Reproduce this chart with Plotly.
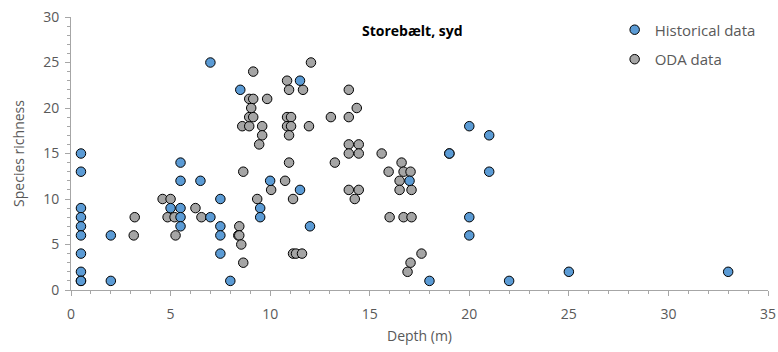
import plotly.graph_objects as go

# Historical data (blue)
hist_depth = [0.5, 0.5, 0.5, 0.5, 0.5, 0.5, 0.5, 0.5, 0.5, 0.5,
              2, 2, 5, 5.5, 5.5, 5.5, 5.5, 5.5, 6.5, 7, 7,
              7.5, 7.5, 7.5, 7.5, 8, 8.5, 9.5, 9.5, 10, 11.5, 11.5, 12,
              17, 18, 19, 20, 20, 20, 21, 21, 22, 25, 33]
hist_richness = [15, 13, 9, 8, 7, 6, 4, 2, 1, 1,
                 6, 1, 9, 14, 12, 9, 8, 7, 12, 25, 8,
                 10, 7, 6, 4, 1, 22, 9, 8, 12, 23, 11, 7,
                 12, 1, 15, 18, 8, 6, 17, 13, 1, 2, 2]

# ODA data (grey)
oda_depth = [3.15, 3.2, 4.6, 5.0, 4.85, 5.2, 5.25, 6.25, 6.55,
             8.45, 8.4, 8.45, 8.55, 8.65, 8.65,
             8.6, 8.95, 9.6, 8.95, 9.15, 9.05, 8.95, 9.15, 9.85, 9.15,
             9.6, 9.45, 9.35, 10.05, 10.75, 10.85, 10.95, 11.65,
             10.85, 11.05, 10.85, 11.05, 11.95, 10.95, 10.95, 11.15,
             11.15, 11.3, 11.6, 12.05,
             13.05, 13.25, 13.95, 13.95, 13.95, 13.95, 13.95,
             14.35, 14.45, 14.45, 14.45, 14.25,
             15.6, 15.95, 16.6, 16.7, 17.05, 16.5, 16.5, 17.1,
             16.0, 16.7, 17.1, 17.6, 17.05, 16.9, 19]
oda_richness = [6, 8, 10, 10, 8, 8, 6, 9, 8,
                7, 6, 6, 5, 3, 13,
                18, 18, 18, 19, 19, 20, 21, 21, 21, 24,
                17, 16, 10, 11, 12, 23, 22, 22,
                19, 19, 18, 18, 18, 17, 14, 10,
                4, 4, 4, 25,
                19, 14, 22, 19, 16, 15, 11,
                20, 16, 15, 11, 10,
                15, 13, 14, 13, 13, 12, 11, 11,
                8, 8, 8, 4, 3, 2, 15]

x_ticks = [0, 5, 10, 15, 20, 25, 30, 35]
y_ticks = [0, 5, 10, 15, 20, 25, 30]

FONT = "Open Sans"
TXT = "#595959"
AX = "#a6a6a6"

fig = go.Figure()
fig.add_trace(go.Scatter(
    x=oda_depth, y=oda_richness, mode="markers", name="ODA data",
    legendrank=2, legendgroup="b",
    marker=dict(size=9.5, color="#a5a5a5", line=dict(color="#000000", width=1)),
    cliponaxis=False))
fig.add_trace(go.Scatter(
    x=hist_depth, y=hist_richness, mode="markers", name="Historical data",
    legendrank=1, legendgroup="a",
    marker=dict(size=9.5, color="#5b9bd5", line=dict(color="#000000", width=1)),
    cliponaxis=False))

axis_common = dict(
    showgrid=False, zeroline=False, showline=True, linecolor=AX, linewidth=1,
    ticks="outside", ticklen=5, tickcolor=AX, tickwidth=1, automargin=False,
    ticklabeloverflow="allow",
    tickfont=dict(family=FONT, size=14, color=TXT),
    minor=dict(ticks="outside", ticklen=3, tickcolor=AX, dtick=1, showgrid=False),
)

fig.update_layout(
    width=778, height=352,
    margin=dict(l=71, r=10, t=17, b=62),
    paper_bgcolor="white", plot_bgcolor="white",
    font=dict(family=FONT, color=TXT),
    xaxis=dict(range=[0, 35], tickvals=x_ticks, ticktext=[str(v) for v in x_ticks],
               ticklabelstandoff=6,
               title=dict(text="Depth (m)", font=dict(family=FONT, size=14, color=TXT), standoff=9),
               **axis_common),
    yaxis=dict(range=[0, 30], tickvals=y_ticks, ticktext=[str(v) for v in y_ticks],
               ticklabelstandoff=3,
               title=dict(text="Species richness", font=dict(family=FONT, size=14, color=TXT), standoff=15),
               **axis_common),
    legend=dict(x=0.78, y=1.013, xanchor="left", yanchor="top",
                font=dict(family=FONT, size=15, color=TXT),
                itemwidth=30, tracegroupgap=7, traceorder="grouped",
                bgcolor="rgba(0,0,0,0)"),
    showlegend=True,
    annotations=[dict(text="<b>Storebælt, syd</b>", xref="paper", yref="paper",
                      x=0.49, y=0.952, xanchor="center", yanchor="middle",
                      showarrow=False, font=dict(family=FONT, size=14, color="#000000"))],
)

# remove the page's default body margin so the 778x352 figure fills the window
fig.write_html("out.html", config={"displayModeBar": False},
               post_script="document.body.style.margin='0';document.body.style.overflow='hidden';")
